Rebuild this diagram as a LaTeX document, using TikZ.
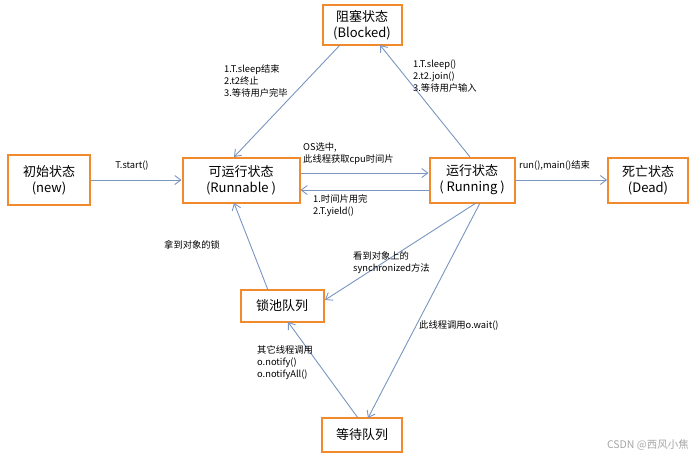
\documentclass[tikz,border=0pt]{standalone}
\usepackage{fontspec}
\setmainfont{Noto Sans CJK SC}
\usetikzlibrary{arrows.meta}
\definecolor{orng}{HTML}{F08A2C}
\definecolor{arr}{HTML}{7A95C0}
\begin{document}
\begin{tikzpicture}[x=1pt,y=-1pt,
  st/.style={draw=orng,line width=2pt,fill=white,align=center,font=\fontsize{13}{16}\selectfont,inner sep=2pt},
  ar/.style={draw=arr,line width=0.9pt,-{Straight Barb[length=6pt,width=9pt]}},
  lb/.style={font=\fontsize{9.3}{12}\selectfont,align=left,inner sep=1pt}]
\useasboundingbox (0,0) rectangle (695,456);
\node[st,minimum width=79pt,minimum height=40pt] (blk) at (362,25) {阻塞状态\\(Blocked)};
\node[st,minimum width=82pt,minimum height=50pt] (new) at (49,180) {初始状态\\(new)};
\node[st,minimum width=117pt,minimum height=45pt] (rbl) at (241,180) {可运行状态\\(Runnable )};
\node[st,minimum width=85pt,minimum height=45pt] (run) at (472,180) {运行状态\\( Running )};
\node[st,minimum width=80pt,minimum height=45pt] (dead) at (648,180) {死亡状态\\(Dead)};
\node[st,minimum width=83pt,minimum height=32pt] (lock) at (282,306) {锁池队列};
\node[st,minimum width=80pt,minimum height=34pt] (wait) at (362,435) {等待队列};
\coordinate (b1) at (340,45); \coordinate (r1) at (234,157);
\coordinate (b2) at (380,45); \coordinate (u1) at (470,157);
\draw[ar] (b1) -- (r1);
\draw[ar] (u1) -- (b2);
\draw[ar] (new) -- (rbl);
\draw[ar] (rbl.east |- 0,173) -- (run.west |- 0,173);
\draw[ar] (run.west |- 0,190) -- (rbl.east |- 0,190);
\draw[ar] (run) -- (dead);
\coordinate (u2) at (476,203); \coordinate (l1) at (325,300);
\draw[ar] (u2) -- (l1);
\coordinate (l2) at (268,290); \coordinate (r2) at (234,203);
\draw[ar] (l2) -- (r2);
\coordinate (u3) at (480,203); \coordinate (w1) at (368,418);
\draw[ar] (u3) -- (w1);
\coordinate (w2) at (358,418); \coordinate (l3) at (288,322);
\draw[ar] (w2) -- (l3);
\node[lb,anchor=north west] (t1) at (223,63) {1.T.sleep结束\\2.t2终止\\3.等待用户完毕};
\node[lb,anchor=north west] (t2) at (412,59) {1.T.sleep()\\2.t2.join()\\3.等待用户输入};
\node[lb,anchor=south] (t3) at (132,172) {T.start()};
\node[lb,anchor=south west] (t4) at (302,166) {OS选中,\\此线程获取cpu时间片};
\node[lb,anchor=north west] (t5) at (312,193) {1.时间片用完\\2.T.yield()};
\node[lb,anchor=south west] (t6) at (518,172) {run(),main()结束};
\node[lb,anchor=west] (t7) at (163,245) {拿到对象的锁};
\node[lb,anchor=north west] (t8) at (352,250) {看到对象上的\\synchronized方法};
\node[lb,anchor=west] (t9) at (418,325) {此线程调用o.wait()};
\node[lb,anchor=north west] (t10) at (256,344) {其它线程调用\\o.notify()\\o.notifyAll()};
\node[lb,anchor=south east,text=gray!70,font=\fontsize{10.5}{12}\selectfont] (wm) at (690,452) {CSDN @西风小焦};
\end{tikzpicture}
\end{document}
